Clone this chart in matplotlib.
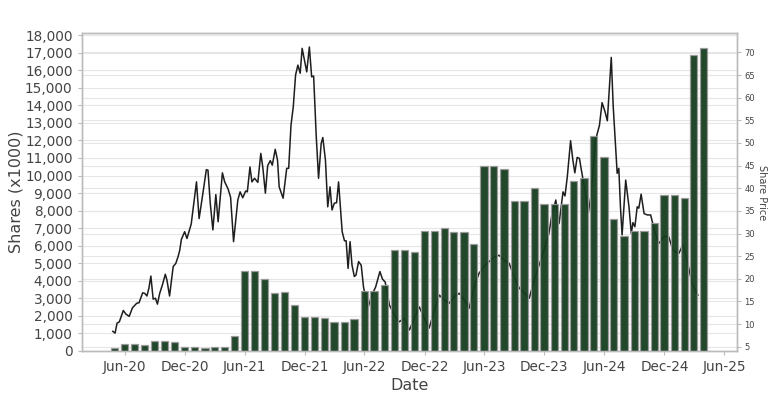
import pandas as pd
import matplotlib
matplotlib.use("Agg")
import matplotlib.pyplot as plt
import matplotlib.dates as mdates
import matplotlib.ticker as mticker

# monthly share volume (x1000), month ends Apr-2020 .. Mar-2025
bar_start = "2020-04-30"
shares = [150, 380, 380, 330, 550, 550, 520, 210, 210, 190, 210, 210,
          880, 4570, 4570, 4090, 3310, 3365, 2620, 1950, 1950, 1875, 1665, 1665,
          1800, 3440, 3440, 3750, 5760, 5760, 5645, 6825, 6825, 7035, 6770, 6770,
          6100, 10570, 10570, 10380, 8550, 8550, 9315, 8380, 8400, 8400, 9690, 9845,
          12260, 11060, 7550, 6540, 6840, 6840, 7280, 8895, 8895, 8725, 16875, 17275]

# share price
price_dates = [
    "2020-04-25", "2020-05-02", "2020-05-08", "2020-05-15", "2020-05-27", "2020-06-04",
    "2020-06-14", "2020-06-24", "2020-07-07", "2020-07-14", "2020-07-25", "2020-07-31",
    "2020-08-07", "2020-08-13", "2020-08-19", "2020-08-26", "2020-09-02", "2020-09-08",
    "2020-09-15", "2020-09-23", "2020-10-02", "2020-10-07", "2020-10-15", "2020-10-26",
    "2020-11-03", "2020-11-10", "2020-11-15", "2020-11-20", "2020-11-30", "2020-12-07",
    "2020-12-20", "2021-01-05", "2021-01-13", "2021-01-23", "2021-02-04", "2021-02-09",
    "2021-02-16", "2021-02-24", "2021-03-05", "2021-03-12", "2021-03-25", "2021-04-01",
    "2021-04-11", "2021-04-19", "2021-04-28", "2021-05-11", "2021-05-18", "2021-05-26",
    "2021-06-04", "2021-06-09", "2021-06-17", "2021-06-23", "2021-07-01", "2021-07-11",
    "2021-07-20", "2021-07-26", "2021-08-03", "2021-08-10", "2021-08-18", "2021-08-24",
    "2021-09-02", "2021-09-09", "2021-09-14", "2021-09-26", "2021-10-07", "2021-10-13",
    "2021-10-20", "2021-10-27", "2021-11-03", "2021-11-10", "2021-11-17", "2021-11-23",
    "2021-11-30", "2021-12-07", "2021-12-15", "2021-12-22", "2021-12-28", "2022-01-05",
    "2022-01-12", "2022-01-20", "2022-01-25", "2022-02-02", "2022-02-09", "2022-02-16",
    "2022-02-22", "2022-03-01", "2022-03-08", "2022-03-14", "2022-03-25", "2022-04-01",
    "2022-04-06", "2022-04-12", "2022-04-18", "2022-04-24", "2022-05-01", "2022-05-06",
    "2022-05-14", "2022-05-22", "2022-05-29", "2022-06-11", "2022-06-19", "2022-06-28",
    "2022-07-05", "2022-07-18", "2022-07-26", "2022-08-03", "2022-08-16", "2022-08-31",
    "2022-09-15", "2022-09-30", "2022-10-16", "2022-10-31", "2022-11-15", "2022-11-30",
    "2022-12-15", "2022-12-31", "2023-01-15", "2023-01-30", "2023-02-14", "2023-03-01",
    "2023-03-17", "2023-04-01", "2023-04-16", "2023-05-01", "2023-05-16", "2023-06-01",
    "2023-06-16", "2023-07-01", "2023-07-16", "2023-08-01", "2023-08-16", "2023-08-31",
    "2023-09-16", "2023-10-01", "2023-10-16", "2023-10-31", "2023-11-15", "2023-11-30",
    "2023-12-15", "2023-12-24", "2024-01-05", "2024-01-15", "2024-01-27", "2024-02-02",
    "2024-02-09", "2024-02-19", "2024-02-26", "2024-03-03", "2024-03-10", "2024-03-17",
    "2024-03-22", "2024-03-31", "2024-04-13", "2024-04-21", "2024-05-05", "2024-05-17",
    "2024-05-25", "2024-06-03", "2024-06-10", "2024-06-15", "2024-06-22", "2024-06-28",
    "2024-07-05", "2024-07-10", "2024-07-15", "2024-07-20", "2024-07-25", "2024-08-05",
    "2024-08-15", "2024-08-22", "2024-08-27", "2024-09-02", "2024-09-09", "2024-09-14",
    "2024-09-21", "2024-09-30", "2024-10-10", "2024-10-20", "2024-10-25", "2024-11-02",
    "2024-11-14", "2024-11-29", "2024-12-14", "2024-12-27", "2025-01-05", "2025-01-14",
    "2025-01-26", "2025-02-08", "2025-02-23", "2025-03-13"]
prices = [
    8.4, 8.0, 10.2, 10.5, 13.0, 12.2, 11.7, 13.6, 14.6, 14.7, 16.9, 16.8,
    16.2, 17.9, 20.6, 15.5, 15.7, 14.4, 16.8, 18.6, 21.0, 19.7, 16.2, 22.7,
    23.4, 24.9, 26.3, 28.7, 30.4, 28.9, 32.1, 41.4, 33.3, 38.1, 44.1, 44.0,
    36.7, 30.8, 38.6, 32.6, 43.4, 41.4, 39.9, 38.0, 28.2, 37.4, 39.2, 37.9,
    39.4, 39.2, 44.7, 41.4, 42.2, 41.3, 47.7, 44.7, 38.9, 45.0, 46.1, 45.1,
    48.6, 46.2, 40.3, 37.8, 44.4, 44.4, 53.9, 58.0, 65.0, 67.2, 65.4, 70.9,
    68.3, 65.7, 71.2, 64.6, 64.8, 51.4, 42.2, 49.9, 51.2, 46.2, 35.9, 40.3,
    35.2, 36.7, 36.8, 41.4, 30.4, 28.4, 28.4, 22.3, 28.2, 23.0, 20.5, 20.8,
    23.8, 23.0, 18.2, 13.5, 15.3, 17.1, 18.2, 21.6, 19.9, 19.3, 14.2, 12.0,
    10.5, 11.3, 8.7, 11.3, 13.8, 11.3, 9.1, 13.1, 16.4, 15.3, 14.6, 16.0,
    16.8, 15.3, 13.5, 18.2, 21.2, 22.8, 23.8, 24.8, 25.2, 24.1, 23.4, 20.4,
    17.9, 16.9, 15.7, 19.7, 23.0, 26.3, 30.0, 34.1, 37.4, 32.2, 39.2, 38.3,
    42.5, 50.5, 46.2, 43.4, 46.8, 46.6, 44.4, 40.7, 34.6, 38.3, 50.6, 53.9,
    58.9, 56.9, 54.9, 60.9, 68.9, 58.0, 49.2, 43.3, 44.4, 35.9, 29.7, 41.8,
    35.9, 30.0, 32.4, 31.5, 35.9, 35.6, 38.7, 34.4, 34.1, 34.1, 32.6, 30.3,
    27.8, 29.3, 29.3, 26.3, 25.9, 25.6, 27.5, 24.1, 19.0, 16.4]

share_ticks = list(range(0, 19000, 1000))
price_ticks = list(range(5, 75, 5))
share_lim = (0, 18100)
price_lim = (4.05, 74.2)

text_col = "#444444"
grid_col = "#e6e6e6"
spine_col = "#bbbbbb"

bar_dates = pd.date_range(bar_start, periods=len(shares), freq="ME")
price_x = pd.to_datetime(price_dates)

fig = plt.figure(figsize=(7.7, 4.0), dpi=100)
ax1 = fig.add_axes([0.106, 0.1225, 0.8515, 0.794])
ax2 = ax1.twinx()

# price axes drawn first (grid + line), share bars in front of it
ax2.set_zorder(1)
ax1.set_zorder(2)
ax1.patch.set_visible(False)
ax2.patch.set_visible(True)
ax2.patch.set_facecolor("white")

# all grid lines live on ax2, under the line and the bars
ax1.grid(False)
ax2.set_axisbelow(True)
ax2.grid(True, axis="y", color=grid_col, linewidth=0.8)
for v in share_ticks:
    f = (v - share_lim[0]) / (share_lim[1] - share_lim[0])
    ax2.axhline(price_lim[0] + f * (price_lim[1] - price_lim[0]),
                color=grid_col, linewidth=0.8, zorder=0.5)

ax1.bar(bar_dates, shares, width=22, color="#143c1e", edgecolor="#9a9a9a",
        linewidth=0.9, alpha=0.94, zorder=2)
ax2.plot(price_x, prices, color="#1e1e1e", linewidth=1.1, zorder=3)

ax1.set_xlim(pd.Timestamp("2020-01-21"), pd.Timestamp("2025-07-11"))
ax1.set_ylim(*share_lim)
ax2.set_ylim(*price_lim)

ax1.set_yticks(share_ticks)
ax1.yaxis.set_major_formatter(mticker.StrMethodFormatter("{x:,.0f}"))
ax1.xaxis.set_major_locator(mdates.MonthLocator(bymonth=[6, 12]))
ax1.xaxis.set_major_formatter(mdates.DateFormatter("%b-%y"))
ax2.set_yticks(price_ticks)
ax2.grid(True, axis="x", color=grid_col, linewidth=0.8)

ax1.tick_params(axis="both", labelsize=9.8, colors=text_col, length=3, color=spine_col)
ax2.tick_params(axis="y", labelsize=6, colors=text_col, length=3, color=spine_col, pad=2)

ax1.set_ylabel("Shares (x1000)", fontsize=11.5, color=text_col)
ax1.yaxis.set_label_coords(-0.088, 0.5)
ax1.set_xlabel("Date", fontsize=11.5, color=text_col, labelpad=3)
ax2.set_ylabel("Share Price", fontsize=7, color=text_col, rotation=270, labelpad=9)

for ax in (ax1, ax2):
    for s in ax.spines.values():
        s.set_color(spine_col)
        s.set_linewidth(1.0)

fig.savefig("out.png", dpi=100, facecolor="white")
